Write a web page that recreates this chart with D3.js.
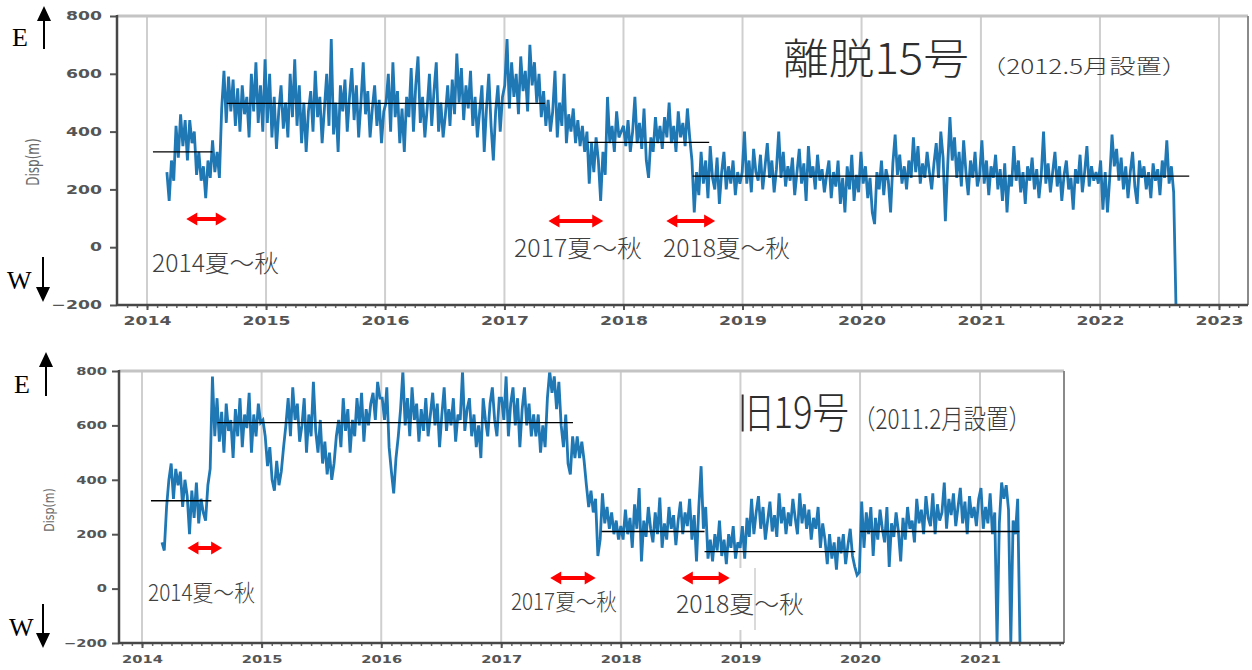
<!DOCTYPE html>
<html lang="ja">
<head>
<meta charset="utf-8">
<title>変位の推移</title>
<script src="https://cdn.jsdelivr.net/npm/d3@7/dist/d3.min.js"></script>
<style>
  html, body { margin: 0; padding: 0; background: #fff; }
  svg { display: block; }
</style>
</head>
<body>
<svg id="chart" width="1252" height="670"></svg>
<script>
// ---------------------------------------------------------------
// Weekly displacement readings, Disp(m): E positive, W negative.
// Every series is sampled once a week starting 2014-03-03.
// ---------------------------------------------------------------
const sampleStart = new Date(2014, 2, 3);

// 離脱15号
const top2014 = [260,160,300,230,420,310,460,350,440,300,440,360,400,250,330,230,280,170,300,240,370,260,330,240,480,610,430,590,470,580,420,550,400,560,460,520,380,600,470,640,430,560,400,650];
const top2015 = [430,600,380,520,340,470,560,410,500,380,600,450,650,420,560,360,500,330,470,540,400,610,450,520,360,480,600,420,720,390,500,330,560,470,580,400,520,620,440,560,380,500,640,460,540,380,480,560,420,510,360,470];
const top2016 = [500,600,400,640,450,540,360,480,330,520,450,620,400,560,660,430,520,380,480,600,420,540,640,400,500,380,460,560,420,580,460,670,500,620,440,560,480,610,420,520,380,470,560,330,480,600,420,300,470,560,400,520];
const top2017 = [560,720,480,640,520,600,460,660,540,610,470,700,560,640,500,600,450,540,420,510,400,470,610,380,500,420,600,360,460,400,480,360,440,350,420,330,400,220,360,260,380,300,160,330,250,520,360,420,330,470,380,400];
const top2018 = [420,350,440,330,400,520,360,430,340,480,300,240,380,330,450,360,420,340,450,380,500,360,420,330,470,380,430,350,480,380,300,120,260,180,330,220,300,170,350,240,200,310,150,260,330,200,280,220,300,180,260,220];
const top2019 = [260,400,220,300,190,340,260,230,320,200,280,360,240,300,190,270,400,240,330,210,280,230,310,180,260,340,220,290,160,350,240,280,200,320,230,270,190,250,300,170,260,210,300,150,240,120,280,200,320,160,250,190];
const top2020 = [330,220,280,170,240,120,80,260,200,300,180,270,230,120,290,390,250,320,220,280,200,300,240,380,260,350,220,290,240,330,260,200,290,360,240,400,310,90,280,450,300,380,240,330,210,370,260,180,300,240,330,210];
const top2021 = [250,370,220,300,180,280,240,320,200,270,160,290,120,250,210,350,230,300,190,260,150,280,230,310,200,270,170,250,400,220,290,190,260,330,210,280,160,250,300,200,240,130,270,220,320,190,260,350,210,280,230,260];
const top2022 = [220,300,130,260,120,240,390,280,340,230,310,200,280,170,260,330,210,150,300,240,280,200,260,170,290,230,270,180,300,240,370,220,280,190,-200];

// 旧19号
const old2014 = [170,140,300,400,460,330,440,380,430,300,400,340,200,360,260,390,240,330,280,250,380,440,780,560,700,540,650,500,680,580,620,480,660,560,700,520,640,590,720,500,640,560,680,610];
const old2015 = [620,560,450,520,400,360,470,380,430,520,600,700,560,740,620,680,540,600,700,500,640,560,760,580,500,620,460,540,420,500,400,460,560,620,520,700,580,660,500,620,560,700,600,720,540,660,600,680,720,620,760,700];
const old2016 = [700,620,740,520,430,350,480,560,660,800,600,700,560,740,620,680,540,660,580,700,560,640,720,600,680,520,640,740,580,660,600,700,540,640,620,800,580,660,700,560,640,520,600,480,700,620,560,680,740,620,560,700];
const old2017 = [700,620,780,560,680,740,600,700,520,660,740,600,680,560,640,560,640,500,600,520,700,800,720,780,660,760,600,520,640,460,420,560,480,560,480,540,470,380,300,360,280,330,120,180,350,240,300,220,280,200,250,180];
const old2018 = [230,180,290,200,260,150,310,220,370,100,250,190,300,220,170,280,200,335,150,240,180,300,220,270,160,250,320,200,280,230,330,180,270,100,300,450,220,300,110,180,100,200,140,250,120,180,90,200,150,230,110,170];
const old2019 = [150,230,110,260,190,330,200,280,340,220,300,180,250,320,210,270,190,350,240,300,200,280,230,330,260,200,350,240,310,220,290,180,260,220,300,150,240,180,90,200,110,170,70,190,130,200,90,160,220,120,80,50];
const old2020 = [60,320,150,280,200,300,120,260,180,290,220,170,300,80,240,190,280,210,100,260,180,300,220,250,170,330,240,290,200,340,260,230,350,200,310,250,280,390,220,330,270,350,230,300,370,240,320,200,340,260,300,230];
const old2021 = [330,370,220,300,240,350,200,280,-200,240,390,330,380,290,-200,250,200,330,-200];

// Axis ticks
const yTicks = [-200, 0, 200, 400, 600, 800];
const topYearTicks = [2014, 2015, 2016, 2017, 2018, 2019, 2020, 2021, 2022, 2023];
const oldYearTicks = [2014, 2015, 2016, 2017, 2018, 2019, 2020, 2021];

// Level lines (decimal year span, Disp)
const topLevels = [
  { from: 2014.05, to: 2014.55, value: 330 },
  { from: 2014.67, to: 2017.34, value: 498 },
  { from: 2017.70, to: 2018.72, value: 363 },
  { from: 2018.58, to: 2022.75, value: 246 }
];
const oldLevels = [
  { from: 2014.075, to: 2014.58, value: 323 },
  { from: 2014.63, to: 2017.60, value: 610 },
  { from: 2017.84, to: 2018.70, value: 210 },
  { from: 2018.70, to: 2019.96, value: 136 },
  { from: 2020.00, to: 2021.33, value: 210 }
];

// Summer-autumn periods
const topSeasons = [
  { from: 2014.33, to: 2014.67, label: "2014夏～秋" },
  { from: 2017.37, to: 2017.83, label: "2017夏～秋" },
  { from: 2018.36, to: 2018.77, label: "2018夏～秋" }
];
const oldSeasons = [
  { from: 2014.38, to: 2014.67, label: "2014夏～秋" },
  { from: 2017.41, to: 2017.79, label: "2017夏～秋" },
  { from: 2018.51, to: 2018.91, label: "2018夏～秋" }
];

// ---------------------------------------------------------------
// Layout
// ---------------------------------------------------------------
const panels = [
  {
    id: "p15",
    series: [top2014, top2015, top2016, top2017, top2018, top2019, top2020, top2021, top2022],
    levels: topLevels, seasons: topSeasons, years: topYearTicks,
    box: { left: 117, right: 1248, top: 16, bottom: 305 },
    xRange: [147, 1219],
    tickFont: 11.5, tickStretch: 1.5, yLabelGap: 15, xLabelDrop: 20,
    ylabel: { x: 33, y: 162, size: 12, stretch: 1.4 },
    title: { text: "離脱15号", x: 783, y: 74, size: 42, len: 186 },
    sub: { text: "（2012.5月設置）", x: 980, y: 74, size: 20, len: 208 },
    arrowY: [219, 221, 221],
    seasonText: [
      { x: 152, y: 272, size: 24, len: 127 },
      { x: 514, y: 257, size: 24, len: 128 },
      { x: 663, y: 257, size: 24, len: 127 }
    ],
    east: { tx: 12, ty: 46, ax: 44, a0: 49, a1: 6 },
    west: { tx: 7, ty: 289, ax: 43, a0: 257, a1: 302 },
    patch: null
  },
  {
    id: "p19",
    series: [old2014, old2015, old2016, old2017, old2018, old2019, old2020, old2021],
    levels: oldLevels, seasons: oldSeasons, years: oldYearTicks,
    box: { left: 119, right: 1064, top: 371, bottom: 643 },
    xRange: [142, 980],
    tickFont: 10.5, tickStretch: 1.4, yLabelGap: 12, xLabelDrop: 20,
    ylabel: { x: 49, y: 510, size: 11, stretch: 1.35 },
    title: { text: "旧19号", x: 737, y: 428, size: 42, len: 112 },
    sub: { text: "（2011.2月設置）", x: 853, y: 429, size: 27, len: 178 },
    arrowY: [548, 578, 578],
    seasonText: [
      { x: 148, y: 601, size: 23, len: 107 },
      { x: 511, y: 610, size: 23, len: 106 },
      { x: 676, y: 613, size: 24, len: 128 }
    ],
    east: { tx: 14, ty: 393, ax: 46, a0: 396, a1: 352 },
    west: { tx: 9, ty: 636, ax: 43, a0: 604, a1: 648 },
    patch: { x: 692, y: 568, w: 63, h: 62 }
  }
];

// ---------------------------------------------------------------
// Drawing
// ---------------------------------------------------------------
const svg = d3.select("#chart");
const DAY = 864e5;
const CJK = "'Noto Sans CJK JP', 'Noto Sans', sans-serif";
const BLUE = "#1f77b4";

function decToDate(v) {
  const yr = Math.floor(v);
  const a = new Date(yr, 0, 1), b = new Date(yr + 1, 0, 1);
  return new Date(+a + (v - yr) * (b - a));
}

function weekly(values) {
  return values.map((v, i) => ({ date: new Date(+sampleStart + i * 7 * DAY), value: v }));
}

function doubleArrow(g, x1, x2, yc) {
  const hl = 11, hh = 6.5, st = 2;
  const p = d3.path();
  p.moveTo(x1, yc);
  p.lineTo(x1 + hl, yc - hh); p.lineTo(x1 + hl, yc - st);
  p.lineTo(x2 - hl, yc - st); p.lineTo(x2 - hl, yc - hh);
  p.lineTo(x2, yc);
  p.lineTo(x2 - hl, yc + hh); p.lineTo(x2 - hl, yc + st);
  p.lineTo(x1 + hl, yc + st); p.lineTo(x1 + hl, yc + hh);
  p.closePath();
  g.append("path").attr("d", p.toString()).attr("fill", "#ff0000");
}

function compassArrow(g, ax, a0, a1) {
  const dir = a1 < a0 ? -1 : 1;
  g.append("line").attr("x1", ax).attr("x2", ax)
    .attr("y1", a0).attr("y2", a1 - dir * 12)
    .attr("stroke", "#000").attr("stroke-width", 2);
  g.append("path")
    .attr("d", `M${ax},${a1} L${ax - 7},${a1 - dir * 15} L${ax + 7},${a1 - dir * 15} Z`)
    .attr("fill", "#000");
}

function drawPanel(p) {
  const b = p.box;
  const g = svg.append("g").attr("class", "panel " + p.id);

  const x = d3.scaleTime()
    .domain([new Date(p.years[0], 0, 1), new Date(p.years[p.years.length - 1], 0, 1)])
    .range(p.xRange);
  const y = d3.scaleLinear()
    .domain([yTicks[0], yTicks[yTicks.length - 1]])
    .range([b.bottom, b.top]);

  const clipId = "clip-" + p.id;
  svg.append("clipPath").attr("id", clipId)
    .append("rect").attr("x", b.left).attr("y", b.top)
    .attr("width", b.right - b.left).attr("height", b.bottom - b.top);

  // vertical year grid
  g.append("g").selectAll("line").data(p.years).join("line")
    .attr("x1", d => x(new Date(d, 0, 1))).attr("x2", d => x(new Date(d, 0, 1)))
    .attr("y1", b.top).attr("y2", b.bottom)
    .attr("stroke", "#cfcfcf").attr("stroke-width", 2);

  // displacement series
  const data = weekly([].concat(...p.series));
  g.append("path").datum(data)
    .attr("clip-path", `url(#${clipId})`)
    .attr("fill", "none").attr("stroke", BLUE).attr("stroke-width", 2.8)
    .attr("stroke-linejoin", "miter").attr("stroke-miterlimit", 3)
    .attr("d", d3.line().x(d => x(d.date)).y(d => y(d.value)));

  // level lines
  g.append("g").selectAll("line").data(p.levels).join("line")
    .attr("x1", d => x(decToDate(d.from))).attr("x2", d => x(decToDate(d.to)))
    .attr("y1", d => y(d.value)).attr("y2", d => y(d.value))
    .attr("stroke", "#000").attr("stroke-width", 1.3);

  // frame
  g.append("line").attr("x1", b.left).attr("x2", b.right).attr("y1", b.top).attr("y2", b.top)
    .attr("stroke", "#c4c4c4").attr("stroke-width", 3);
  g.append("line").attr("x1", b.right).attr("x2", b.right).attr("y1", b.top).attr("y2", b.bottom)
    .attr("stroke", "#8a8a8a").attr("stroke-width", 2);

  // x axis: major (year) + minor (month) ticks
  const monthTicks = d3.timeMonth.range(x.invert(b.left), x.invert(b.right));
  const minor = g.append("g").attr("transform", `translate(0,${b.bottom})`)
    .call(d3.axisBottom(x).tickValues(monthTicks).tickSize(3).tickFormat(""));
  minor.select(".domain").remove();
  minor.selectAll("line").attr("stroke", "#6a6a6a").attr("stroke-width", 1.5);

  const xAxis = g.append("g").attr("transform", `translate(0,${b.bottom})`)
    .call(d3.axisBottom(x).tickValues(p.years.map(v => new Date(v, 0, 1)))
      .tickSize(5).tickFormat(d3.timeFormat("%Y")));
  xAxis.select(".domain").remove();
  xAxis.selectAll("line").attr("stroke", "#555").attr("stroke-width", 2);
  xAxis.selectAll("text")
    .attr("y", p.xLabelDrop).attr("dy", 0)
    .attr("transform", `scale(${p.tickStretch},1)`)
    .attr("font-family", "'DejaVu Sans', sans-serif").attr("font-weight", "bold")
    .attr("font-size", p.tickFont).attr("fill", "#555");

  // y axis
  const yAxis = g.append("g").attr("transform", `translate(${b.left},0)`)
    .call(d3.axisLeft(y).tickValues(yTicks).tickSize(7));
  yAxis.select(".domain").remove();
  yAxis.selectAll("line").attr("stroke", "#555").attr("stroke-width", 2);
  yAxis.selectAll("text")
    .attr("x", -p.yLabelGap / p.tickStretch)
    .attr("transform", `scale(${p.tickStretch},1)`)
    .attr("font-family", "'DejaVu Sans', sans-serif").attr("font-weight", "bold")
    .attr("font-size", p.tickFont).attr("fill", "#555");

  // left & bottom spines
  g.append("line").attr("x1", b.left).attr("x2", b.left).attr("y1", b.top - 1).attr("y2", b.bottom + 1)
    .attr("stroke", "#474747").attr("stroke-width", 2.5);
  g.append("line").attr("x1", b.left).attr("x2", b.right).attr("y1", b.bottom).attr("y2", b.bottom)
    .attr("stroke", "#474747").attr("stroke-width", 2.5);

  // axis title
  g.append("text")
    .attr("transform", `translate(${p.ylabel.x},${p.ylabel.y}) scale(${p.ylabel.stretch},1) rotate(-90)`)
    .attr("text-anchor", "middle").attr("dominant-baseline", "central")
    .attr("font-family", "'DejaVu Sans', sans-serif").attr("font-size", p.ylabel.size)
    .attr("fill", "#6a6a6a").text("Disp(m)");

  // white label box (covers grid and trace under a season label)
  if (p.patch) {
    g.append("rect").attr("x", p.patch.x).attr("y", p.patch.y)
      .attr("width", p.patch.w).attr("height", p.patch.h).attr("fill", "#fff");
    g.append("line").attr("x1", p.patch.x + p.patch.w).attr("x2", p.patch.x + p.patch.w)
      .attr("y1", p.patch.y).attr("y2", p.patch.y + p.patch.h)
      .attr("stroke", "#b5b5b5").attr("stroke-width", 1);
  }

  // season arrows and labels
  p.seasons.forEach((s, i) => {
    doubleArrow(g, x(decToDate(s.from)), x(decToDate(s.to)), p.arrowY[i]);
    const t = p.seasonText[i];
    g.append("text").attr("x", t.x).attr("y", t.y)
      .attr("font-family", CJK).attr("font-weight", 300)
      .attr("font-size", t.size).attr("fill", "#404040")
      .attr("textLength", t.len).attr("lengthAdjust", "spacingAndGlyphs")
      .text(s.label);
  });

  // titles
  g.append("text").attr("x", p.title.x).attr("y", p.title.y)
    .attr("font-family", CJK).attr("font-weight", 300)
    .attr("font-size", p.title.size).attr("fill", "#2e2e2e")
    .attr("textLength", p.title.len).attr("lengthAdjust", "spacingAndGlyphs")
    .text(p.title.text);
  g.append("text").attr("x", p.sub.x).attr("y", p.sub.y)
    .attr("font-family", CJK).attr("font-weight", 300)
    .attr("font-size", p.sub.size).attr("fill", "#3a3a3a")
    .attr("textLength", p.sub.len).attr("lengthAdjust", "spacingAndGlyphs")
    .text(p.sub.text);

  // E / W direction marks
  const serif = "'Liberation Serif', 'DejaVu Serif', serif";
  g.append("text").attr("x", p.east.tx).attr("y", p.east.ty)
    .attr("font-family", serif).attr("font-size", 26).attr("fill", "#000").text("E");
  compassArrow(g, p.east.ax, p.east.a0, p.east.a1);
  g.append("text").attr("x", p.west.tx).attr("y", p.west.ty)
    .attr("font-family", serif).attr("font-size", 26).attr("fill", "#000").text("W");
  compassArrow(g, p.west.ax, p.west.a0, p.west.a1);
}

panels.forEach(drawPanel);
</script>
</body>
</html>
